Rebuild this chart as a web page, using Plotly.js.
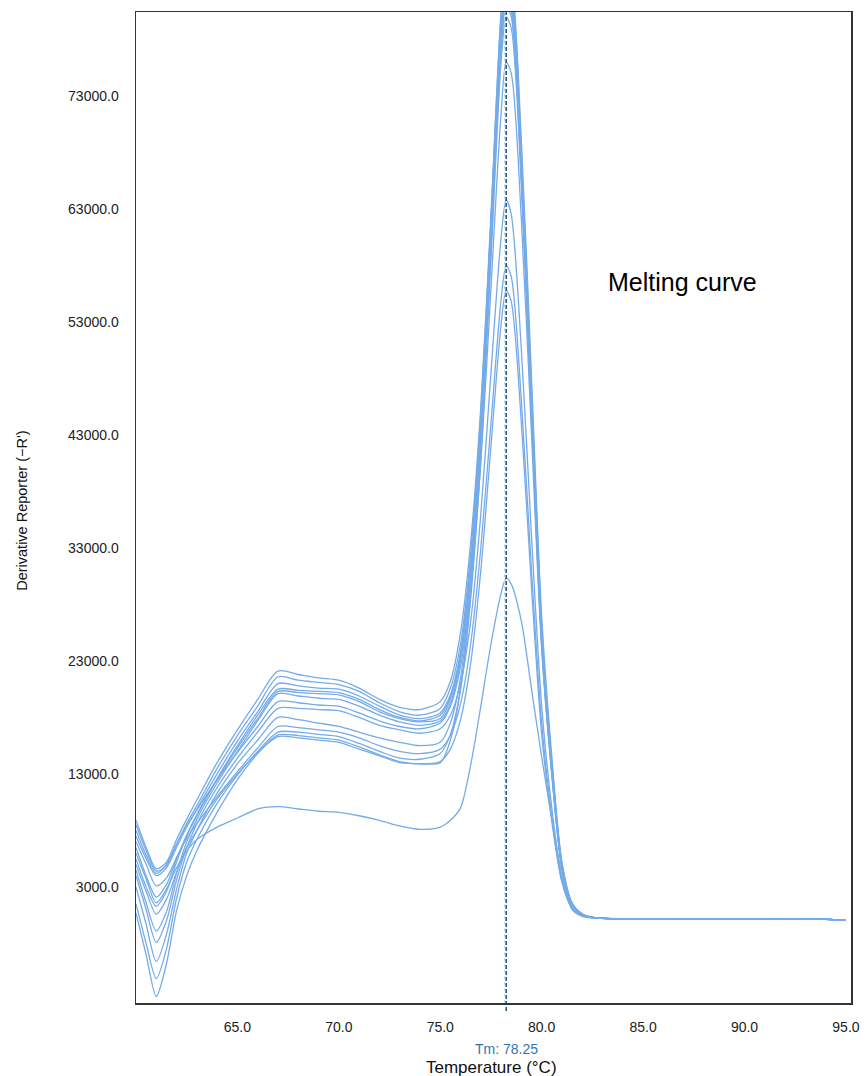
<!DOCTYPE html>
<html>
<head>
<meta charset="utf-8">
<script src="https://cdn.plot.ly/plotly-3.0.1.min.js"></script>
<style>
html,body{margin:0;padding:0;background:#fff;}
#chart{width:868px;height:1076px;}
</style>
</head>
<body>
<div id="chart"></div>
<script>
// Temperature grid (°C)
const temperature = [60, 60.5, 61, 61.5, 62, 62.5, 63, 64, 65, 66, 67, 68, 69, 70, 71, 72, 73, 74, 75, 75.5, 76, 76.5, 77, 77.5, 78, 78.25, 78.5, 79, 79.5, 80, 80.5, 81, 81.5, 82, 82.5, 83, 85, 88, 91, 94, 95];

// Derivative reporter (-R') per well
const wellA = [8900, 6500, 4600, 5200, 7200, 9000, 10700, 14000, 16900, 19600, 22100, 21800, 21500, 21300, 20600, 19600, 18900, 18700, 19400, 21200, 25500, 33500, 45500, 62500, 80000, 84000, 83000, 68000, 47000, 26000, 14000, 5000, 1500, 600, 300, 220, 200, 180, 170, 130, 60];
const wellB = [8000, 5800, 4200, 5000, 6800, 8600, 10200, 13500, 16400, 19000, 21600, 21300, 21100, 20900, 20300, 19300, 18500, 18200, 18800, 20600, 24500, 32500, 45000, 62000, 79000, 83000, 82000, 67000, 46000, 25000, 13500, 4800, 1400, 550, 300, 220, 200, 180, 170, 130, 60];
const wellC = [7500, 5500, 4000, 4700, 6500, 8300, 9900, 13000, 15900, 18500, 21000, 20800, 20600, 20500, 19900, 19000, 18200, 17900, 18400, 20000, 23800, 31500, 44000, 61000, 78000, 82000, 81000, 66000, 45000, 24500, 13000, 4600, 1400, 550, 300, 220, 200, 180, 170, 130, 60];
const wellD = [6500, 4000, 2100, 3200, 5500, 7600, 9400, 12600, 15500, 18200, 20500, 20400, 20300, 20200, 19600, 18700, 18000, 17700, 18200, 19800, 23500, 31000, 43000, 60000, 77500, 81500, 80500, 66000, 45500, 25000, 13500, 4800, 1500, 600, 300, 220, 200, 180, 170, 130, 60];
const wellE = [5500, 3000, 1300, 2600, 5200, 7500, 9300, 12500, 15300, 17900, 20300, 20200, 20100, 20000, 19400, 18500, 17900, 17600, 17900, 19600, 23500, 31500, 44000, 62000, 80500, 84500, 83500, 69000, 48000, 27000, 14500, 5200, 1600, 600, 300, 220, 200, 180, 170, 130, 60];
const wellF = [4500, 1600, -900, 800, 4200, 7000, 9000, 12200, 15000, 17700, 20100, 19900, 19700, 19600, 19000, 18200, 17600, 17300, 17700, 19200, 23000, 30500, 43000, 60500, 78500, 82500, 81500, 67000, 46500, 26000, 14000, 5000, 1500, 600, 300, 220, 200, 180, 170, 130, 60];
const wellG = [8500, 6200, 4400, 4900, 6800, 8400, 9800, 12500, 14900, 17200, 19400, 19300, 19100, 19000, 18400, 17700, 17200, 17000, 17500, 19000, 22500, 29500, 40500, 56000, 71500, 76000, 75000, 62000, 43000, 24000, 13000, 4700, 1400, 550, 300, 220, 200, 180, 170, 130, 60];
const wellH = [4000, 1000, -1900, 0, 3600, 6500, 8600, 11800, 14400, 16700, 18800, 18800, 18700, 18600, 18000, 17300, 16900, 16600, 17000, 18200, 21000, 26500, 36000, 48500, 60500, 63800, 62500, 50500, 34000, 19000, 10000, 3800, 1200, 500, 300, 220, 200, 180, 170, 130, 60];
const wellI = [3000, -300, -3600, -1200, 2800, 6000, 8000, 11300, 13900, 16000, 18000, 17800, 17500, 17200, 16700, 16200, 15800, 15500, 15800, 17500, 21500, 29500, 42000, 59500, 77000, 81000, 80000, 65500, 45000, 25000, 13500, 4800, 1500, 600, 300, 220, 200, 180, 170, 130, 60];
const wellJ = [7000, 5000, 3100, 3800, 5600, 7300, 8600, 11000, 13200, 15300, 17200, 17100, 16900, 16700, 16200, 15500, 15000, 14800, 15200, 16400, 19200, 24500, 33000, 44000, 55000, 58000, 57000, 46000, 31000, 17500, 9200, 3500, 1100, 450, 280, 220, 200, 180, 170, 130, 60];
const wellK = [1500, -2000, -5100, -2500, 2000, 5200, 7200, 10400, 12900, 15000, 16700, 16700, 16500, 16300, 15700, 15000, 14400, 14300, 14800, 16500, 20500, 28500, 41000, 58500, 76000, 80000, 79000, 65000, 44500, 24500, 13000, 4600, 1400, 550, 300, 220, 200, 180, 170, 130, 60];
const wellL = [700, -3000, -6700, -3800, 900, 4000, 6200, 9600, 12500, 14800, 16450, 16400, 16200, 16000, 15400, 14700, 14100, 13900, 14100, 15200, 17800, 22800, 31000, 42000, 52800, 55800, 54800, 44000, 29500, 16500, 8800, 3400, 1100, 450, 280, 220, 200, 180, 170, 130, 60];
const wellM = [5000, 2600, 600, 1900, 4300, 6500, 8000, 10800, 13000, 14900, 16300, 16200, 16000, 15800, 15200, 14600, 14000, 13900, 14000, 16000, 20500, 29000, 42500, 60500, 79000, 83500, 82500, 67500, 46500, 25500, 13500, 4800, 1500, 600, 300, 220, 200, 180, 170, 130, 60];
const wellN = [6000, 3700, 1600, 2800, 4700, 6200, 7200, 8300, 9100, 9900, 10100, 9900, 9700, 9600, 9300, 8900, 8400, 8100, 8300, 8900, 10000, 13800, 19000, 24500, 29000, 30300, 29800, 26500, 20500, 14500, 9000, 4000, 1000, 400, 250, 210, 200, 180, 170, 130, 60];

const wells = [wellA, wellB, wellC, wellD, wellE, wellF, wellG, wellH, wellI, wellJ, wellK, wellL, wellM, wellN];

// Axis ticks
const xTicks = [65, 70, 75, 80, 85, 90, 95];
const yTicks = [3000, 13000, 23000, 33000, 43000, 53000, 63000, 73000];
const tmValue = 78.25;

const traces = wells.map(w => ({
  x: temperature, y: w, type: 'scatter', mode: 'lines',
  line: {color: '#74abe8', width: 1.3, shape: 'spline', smoothing: 0.8},
  hoverinfo: 'skip', showlegend: false
}));

const FONT = 'Liberation Sans, Arial, sans-serif';
const tickFont = {family: FONT, size: 14, color: '#222'};

const layout = {
  width: 868, height: 1076,
  margin: {l: 136, r: 17, t: 12, b: 73},
  paper_bgcolor: '#fff', plot_bgcolor: '#fff',
  showlegend: false,
  xaxis: {
    range: [60, 95.25], tickvals: xTicks, tickformat: '.1f',
    showgrid: false, zeroline: false,
    showline: true, mirror: true, linecolor: '#333', linewidth: 1.5,
    ticks: 'outside', ticklen: 11, tickcolor: 'rgba(0,0,0,0)',
    tickfont: tickFont
  },
  yaxis: {
    range: [-7270, 80430], tickvals: yTicks, tickformat: '.1f',
    showgrid: false, zeroline: false,
    showline: true, mirror: true, linecolor: '#333', linewidth: 1.5,
    ticks: 'outside', ticklen: 13, tickcolor: 'rgba(0,0,0,0)',
    tickfont: tickFont
  },
  shapes: [
    {type: 'line', xref: 'x', yref: 'paper', x0: tmValue - 0.08, x1: tmValue - 0.08, y0: 0, y1: 1,
     line: {color: '#c3dcf3', width: 1, dash: 'dot'}},
    {type: 'line', xref: 'x', yref: 'paper', x0: tmValue, x1: tmValue, y0: -0.008, y1: 1,
     line: {color: '#17425f', width: 1.4, dash: '4px,2px'}}
  ],
  annotations: [
    {text: 'Melting curve', xref: 'paper', yref: 'paper', x: 0.765, y: 0.728,
     xanchor: 'center', yanchor: 'middle',
     showarrow: false, font: {family: FONT, size: 25, color: '#000'}},
    {text: 'Tm: 78.25', xref: 'x', yref: 'paper', x: tmValue, y: -0.036, xanchor: 'center', yanchor: 'top',
     showarrow: false, font: {family: FONT, size: 14, color: '#3474ad'}},
    {text: 'Temperature (°C)', xref: 'paper', yref: 'paper', x: 0.497, y: -0.053, xanchor: 'center', yanchor: 'top',
     showarrow: false, font: {family: FONT, size: 17, color: '#111'}},
    {text: "Derivative Reporter (\u2212R')", xref: 'paper', yref: 'paper', x: -0.159, y: 0.497,
     xanchor: 'center', yanchor: 'middle',
     textangle: -90, showarrow: false, font: {family: FONT, size: 14.5, color: '#111'}}
  ]
};

Plotly.newPlot('chart', traces, layout, {staticPlot: true, displayModeBar: false});
</script>
</body>
</html>
